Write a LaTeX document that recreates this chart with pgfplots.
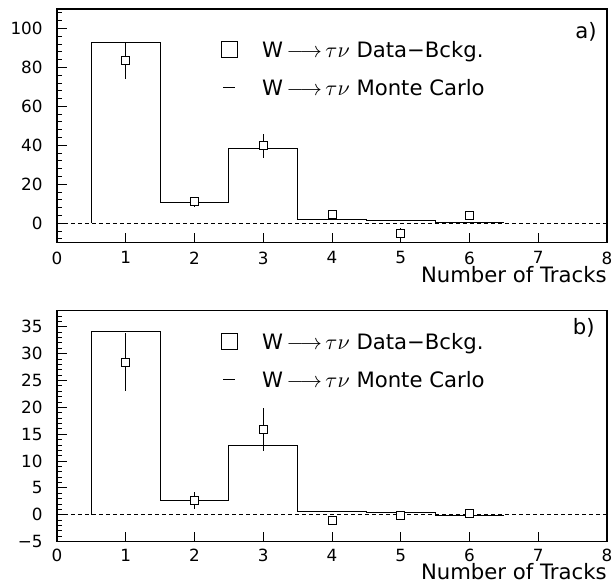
\documentclass[border=0pt]{standalone}
\usepackage{pgfplots}
\pgfplotsset{compat=1.18}
\usepackage{fontspec}
\setmainfont{DejaVu Sans}

\newcommand\tickfont{\fontsize{8.4}{10}\selectfont}
\newcommand\labfont{\fontsize{10.6}{12.7}\selectfont}
\newcommand\legtext[1]{W\,$\longrightarrow$\,$\tau\nu$ #1}

\pgfplotsset{
  histo/.style={
    scale only axis, width=275pt, anchor=south west,
    xmin=0, xmax=8, xtick={0,...,8},
    tick pos=left, major tick length=5pt, minor tick length=2.5pt,
    every tick/.style={black, line width=0.5pt},
    axis line style={line width=0.6pt},
    tick label style={font=\tickfont},
    /pgf/number format/assume math mode=true,
    xticklabel style={inner sep=0pt, yshift=-4.3pt},
    yticklabel style={inner sep=0pt, xshift=-7pt},
    xlabel={Number of Tracks},
    xlabel style={font=\labfont, at={(rel axis cs:1,0)}, anchor=north east, inner sep=0pt},
    legend cell align=left,
    legend style={draw=none, fill=none, inner sep=0pt, outer sep=0pt,
      column sep=0pt, row sep=8.5pt, font=\labfont,
      nodes={inner sep=0pt, text height=8pt, text depth=2.5pt}},
  },
  zero/.style={dash pattern=on 2pt off 1.5pt, line width=0.4pt, forget plot},
  mc/.style={const plot, line width=0.5pt, forget plot},
  dat/.style={only marks, mark=square*, mark size=2pt,
    mark options={fill=white, line width=0.5pt}, line width=0.5pt, forget plot,
    error bars/.cd, y dir=both, y explicit, error mark=none,
    error bar style={line width=0.5pt}},
  legdata/.style={legend image code/.code={
    \draw[line width=0.5pt] (0pt,-2.9pt) rectangle (8pt,5.1pt);
    \path[draw=none] (0pt,0pt) -- (20.5pt,0pt);}},
  legmc/.style={legend image code/.code={
    \draw[line width=0.5pt] (1pt,1.1pt) -- (7pt,1.1pt);
    \path[draw=none] (0pt,0pt) -- (20.5pt,0pt);}},
}

\begin{document}
\begin{tikzpicture}
\useasboundingbox (0pt,0pt) rectangle (308pt,-291pt);

% panel a
\begin{axis}[histo, height=116.85pt, at={(28.5pt,-121.35pt)},
    ymin=-10, ymax=110, ytick={0,20,...,100}, minor ytick={-8,-4,...,108},
    xlabel style={yshift=-11.5pt},
    legend style={at={(rel axis cs:0.2976,1)}, anchor=north west, yshift=-15.95pt}]
\addplot[zero] coordinates {(0,0) (8,0)};
\addplot[mc] coordinates {
  (0.5,0) (0.5,93.0) (1.5,10.6) (2.5,38.4) (3.5,2.0) (4.5,1.2) (5.5,0.4) (6.5,0.4)};
\addplot[dat] coordinates {
  (1,83.5) +- (0,9.2)
  (2,10.9) +- (0,2.5)
  (3,39.7) +- (0,6.3)
  (4,4.6) +- (0,1.5)
  (5,-5.3) +- (0,3.0)
  (6,4.1) +- (0,1.5)};
\addlegendimage{legdata}
\addlegendentry{\legtext{Data−Bckg.}}
\addlegendimage{legmc}
\addlegendentry{\legtext{Monte Carlo}}
\node[anchor=north east, inner sep=0pt, font=\labfont, xshift=-5pt, yshift=-6.3pt]
  at (rel axis cs:1,1) {a)};
\end{axis}

% panel b
\begin{axis}[histo, height=115.5pt, at={(28.5pt,-270.85pt)},
    ymin=-5, ymax=38, ytick={-5,0,...,35}, minor ytick={-4,-3,...,37},
    yticklabels={−5,0,5,10,15,20,25,30,35},
    xticklabel style={yshift=0.8pt},
    xlabel style={yshift=-10.8pt},
    legend style={at={(rel axis cs:0.2976,1)}, anchor=north west, yshift=-11.15pt}]
\addplot[zero] coordinates {(0,0) (8,0)};
\addplot[mc] coordinates {
  (0.5,0) (0.5,34.2) (1.5,2.7) (2.5,13.0) (3.5,0.6) (4.5,0.4) (5.5,-0.1) (6.5,-0.1)};
\addplot[dat] coordinates {
  (1,28.4) +- (0,5.4)
  (2,2.65) +- (0,1.6)
  (3,15.85) +- (0,3.95)
  (4,-1.1) +- (0,0.5)
  (5,-0.1) +- (0,0.5)
  (6,0.2) +- (0,0.5)};
\addlegendimage{legdata}
\addlegendentry{\legtext{Data−Bckg.}}
\addlegendimage{legmc}
\addlegendentry{\legtext{Monte Carlo}}
\node[anchor=north east, inner sep=0pt, font=\labfont, xshift=-6pt, yshift=-3.8pt]
  at (rel axis cs:1,1) {b)};
\end{axis}
\end{tikzpicture}
\end{document}
